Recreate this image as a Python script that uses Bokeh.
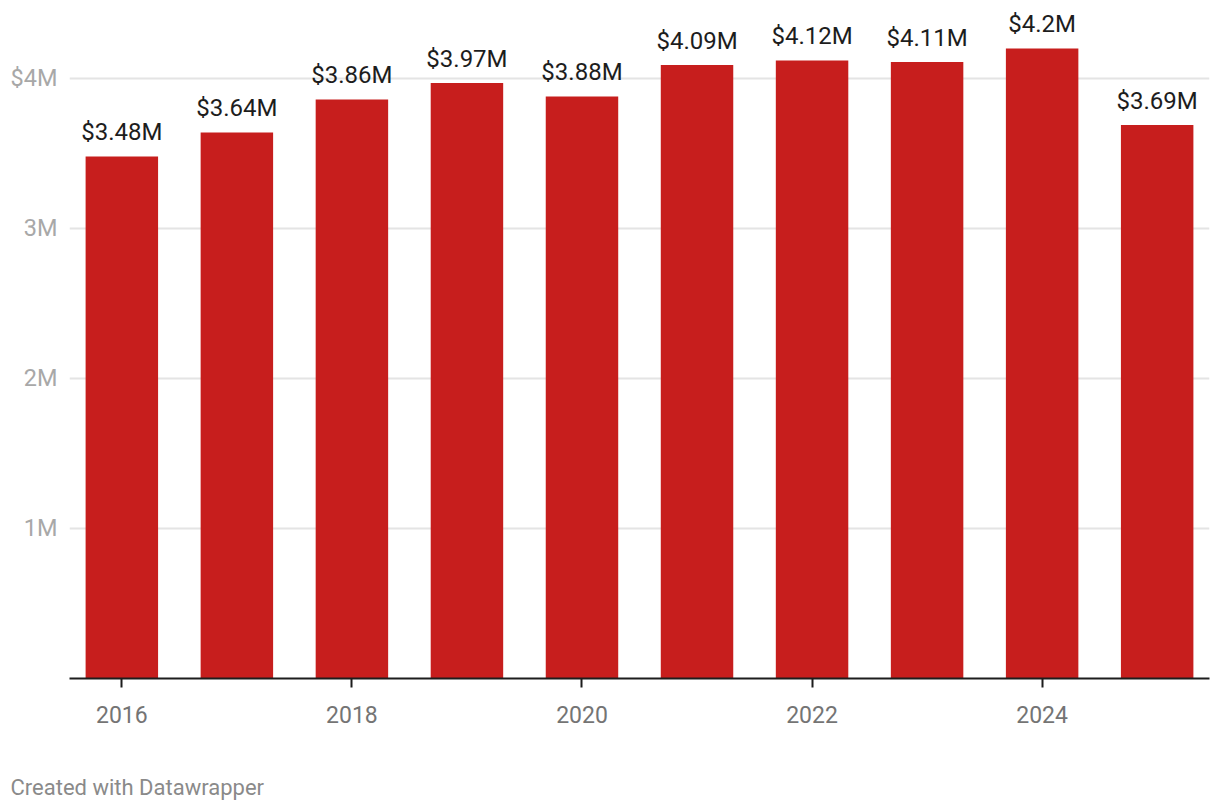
from bokeh.plotting import figure
from bokeh.models import ColumnDataSource, Range1d, FixedTicker, Title
from bokeh.core.properties import value
from bokeh.embed import file_html
from bokeh.resources import INLINE

years = [2016, 2017, 2018, 2019, 2020, 2021, 2022, 2023, 2024, 2025]
values = [3.48e6, 3.64e6, 3.86e6, 3.97e6, 3.88e6, 4.09e6, 4.12e6, 4.11e6, 4.20e6, 3.69e6]
value_labels = ["$3.48M", "$3.64M", "$3.86M", "$3.97M", "$3.88M",
                "$4.09M", "$4.12M", "$4.11M", "$4.2M", "$3.69M"]
x_ticks = [2016, 2018, 2020, 2022, 2024]
y_ticks = [1e6, 2e6, 3e6, 4e6]
y_tick_labels = ["1M", "2M", "3M", "$4M"]
credit = "Created with Datawrapper"

FONT = "Roboto"
W, H = 1212, 808
BL, BR, BT, BB = 69, 3, 10, 130
x0, x1 = 2015.545, 2025.455
y0, y1 = 0, 4.4533e6

src = ColumnDataSource(dict(x=years, top=values, label=value_labels))

p = figure(width=W, height=H, output_backend="svg", toolbar_location=None,
           x_range=Range1d(x0, x1), y_range=Range1d(y0, y1),
           min_border_left=BL, min_border_right=BR, min_border_top=BT,
           min_border_bottom=BB, outline_line_color=None,
           background_fill_color="white", border_fill_color="white")

p.vbar(x="x", top="top", bottom=0, width=0.63, source=src,
       fill_color="#c71e1d", line_color=None)

p.text(x="x", y="top", text="label", source=src, text_align="center",
       text_baseline="alphabetic", y_offset=-24, text_color="#1d1d1d",
       text_font=value(FONT), text_font_size="24px")

# grid
p.xgrid.visible = False
p.ygrid.ticker = FixedTicker(ticks=y_ticks)
p.ygrid.grid_line_color = "#e4e4e4"
p.ygrid.grid_line_width = 2

# y axis
p.yaxis.ticker = FixedTicker(ticks=y_ticks)
p.yaxis.major_label_overrides = {t: l for t, l in zip(y_ticks, y_tick_labels)}
p.yaxis.axis_line_color = None
p.yaxis.major_tick_line_color = None
p.yaxis.minor_tick_line_color = None
p.yaxis.major_tick_out = 0
p.yaxis.major_tick_in = 0
p.yaxis.major_label_standoff = 12
p.yaxis.major_label_text_font = FONT
p.yaxis.major_label_text_font_size = "23.5px"
p.yaxis.major_label_text_color = "#a8a8a8"

# x axis
p.xaxis.ticker = FixedTicker(ticks=x_ticks)
p.xaxis.axis_line_color = "#1d1d1d"
p.xaxis.axis_line_width = 2
p.xaxis.major_tick_line_color = "#1d1d1d"
p.xaxis.major_tick_line_width = 2
p.xaxis.major_tick_out = 9
p.xaxis.major_tick_in = 0
p.xaxis.minor_tick_line_color = None
p.xaxis.major_label_standoff = 18
p.xaxis.major_label_text_font = FONT
p.xaxis.major_label_text_font_size = "23px"
p.xaxis.major_label_text_color = "#747474"
# blank axis label used only as spacing before the credit line
p.xaxis.axis_label = " "
p.xaxis.axis_label_standoff = 30
p.xaxis.axis_label_text_font_size = "12px"

# credit line
p.add_layout(Title(text=credit, align="left", offset=-59, standoff=0,
                   text_font=FONT, text_font_size="22px",
                   text_font_style="normal", text_color="#8a8a8a"), "below")

open("out.html", "w").write(file_html(p, INLINE))
